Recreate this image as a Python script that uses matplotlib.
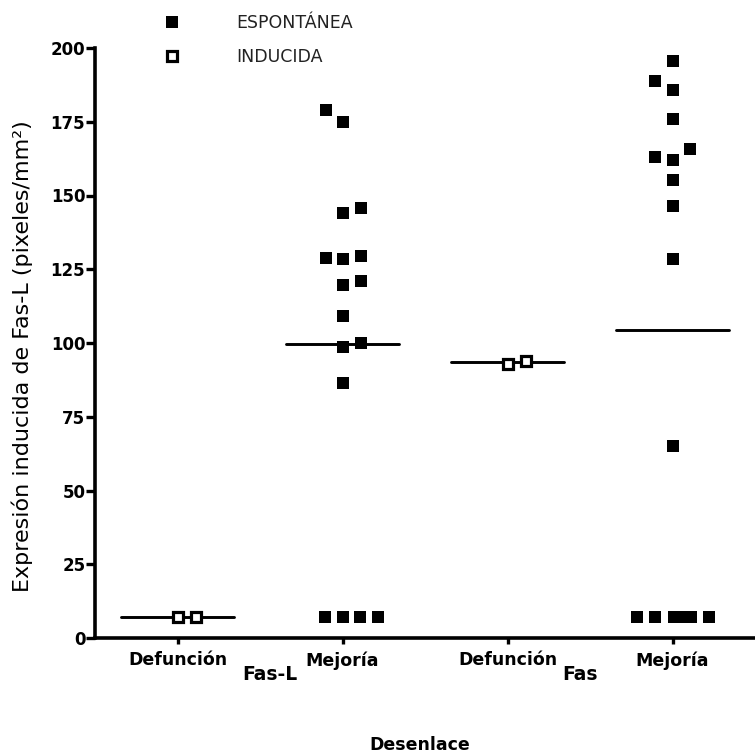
import numpy as np
import matplotlib
matplotlib.use('Agg')
from matplotlib import pyplot as plt

plt.rcParams['font.family'] = ['DejaVu Sans']

# ---------------- datos ----------------
categorias = ['Defunción', 'Mejoría', 'Defunción', 'Mejoría']
grupos = ['Fas-L', 'Fas']

defuncion_fasl = [7.0, 7.0]
mejoria_fasl = [179.0, 175.0, 145.6, 144.2, 129.5, 128.9, 128.4, 121.1, 119.6,
                109.2, 100.1, 98.8, 86.3, 7.0, 7.0, 7.0, 7.0]
defuncion_fas = [93.0, 94.0]
mejoria_fas = [195.6, 188.9, 185.8, 175.9, 165.7, 163.2, 162.0, 155.3, 146.4,
               128.6, 65.2, 7.0, 7.0, 7.0, 7.0, 7.0, 7.0]

# desplazamiento horizontal de cada punto (como en Prism)
desp_def_fasl = [0, 0.11]
desp_mej_fasl = [-0.10, 0, 0.11, 0, 0.11, -0.10, 0, 0.11, 0, 0, 0.11, 0, 0,
                 -0.105, 0, 0.105, 0.215]
desp_def_fas = [0, 0.11]
desp_mej_fas = [0, -0.105, 0, 0, 0.107, -0.105, 0, 0, 0, 0, 0,
                -0.216, -0.109, 0.012, 0.062, 0.113, 0.219]

series = [
    (1, defuncion_fasl, desp_def_fasl, 'INDUCIDA'),
    (2, mejoria_fasl, desp_mej_fasl, 'ESPONTÁNEA'),
    (3, defuncion_fas, desp_def_fas, 'INDUCIDA'),
    (4, mejoria_fas, desp_mej_fas, 'ESPONTÁNEA'),
]

# ---------------- grafico ----------------
fig = plt.figure(figsize=(7.55, 7.55), dpi=100)
ax = fig.add_axes([95 / 755, 1 - 638 / 755, 660 / 755, 590 / 755])

for pos, valores, desp, tipo in series:
    x = pos + np.array(desp)
    if tipo == 'ESPONTÁNEA':
        ax.plot(x, valores, 's', color='black', ms=9.2, mew=0, zorder=3, clip_on=False)
    else:
        ax.plot(x, valores, 's', mfc='white', mec='black', ms=7.6, mew=2.3, zorder=3, clip_on=False)
    media = np.mean(valores)
    ax.plot([pos - 0.34, pos + 0.34], [media, media], color='black', lw=2.1, zorder=2,
            solid_capstyle='round')

ax.set_xlim(0.5, 4.5)
ax.set_ylim(0, 200)
ax.set_yticks(np.arange(0, 201, 25))
ax.set_xticks([1, 2, 3, 4])
ax.set_xticklabels(categorias)

for s in ['top', 'right']:
    ax.spines[s].set_visible(False)
for s in ['left', 'bottom']:
    ax.spines[s].set_linewidth(2.6)

ax.tick_params(axis='y', direction='out', length=6.5, width=2.4, labelsize=12, pad=0.5)
ax.tick_params(axis='x', direction='out', length=4.5, width=2.4, labelsize=12.5, pad=5)
for lab in ax.get_xticklabels() + ax.get_yticklabels():
    lab.set_fontweight('bold')

ax.text(1.56, -0.046, grupos[0], transform=ax.get_xaxis_transform(), ha='center', va='top',
        fontsize=13.5, fontweight='bold')
ax.text(3.44, -0.046, grupos[1], transform=ax.get_xaxis_transform(), ha='center', va='top',
        fontsize=13.5, fontweight='bold')

ax.set_ylabel('Expresión inducida de Fas-L (pixeles/mm²)', fontsize=16)
ax.yaxis.set_label_coords(-0.094, 0.478)
fig.text(420 / 755, 1 - 745 / 755, 'Desenlace', ha='center', va='center',
         fontsize=12.5, fontweight='bold')

# leyenda arriba
h1, = ax.plot([], [], 's', color='black', ms=9.2, mew=0)
h2, = ax.plot([], [], 's', mfc='white', mec='black', ms=7.6, mew=2.3)
leg = fig.legend([h1, h2], ['ESPONTÁNEA', 'INDUCIDA'], loc='upper left',
                 bbox_to_anchor=(163 / 755, 1 - 14 / 755), frameon=False, fontsize=12.5,
                 handlelength=1.0, handletextpad=3.2, labelspacing=0.9, borderpad=0,
                 borderaxespad=0)
for t in leg.get_texts():
    t.set_color('#222222')

fig.savefig('out.png', dpi=100)
